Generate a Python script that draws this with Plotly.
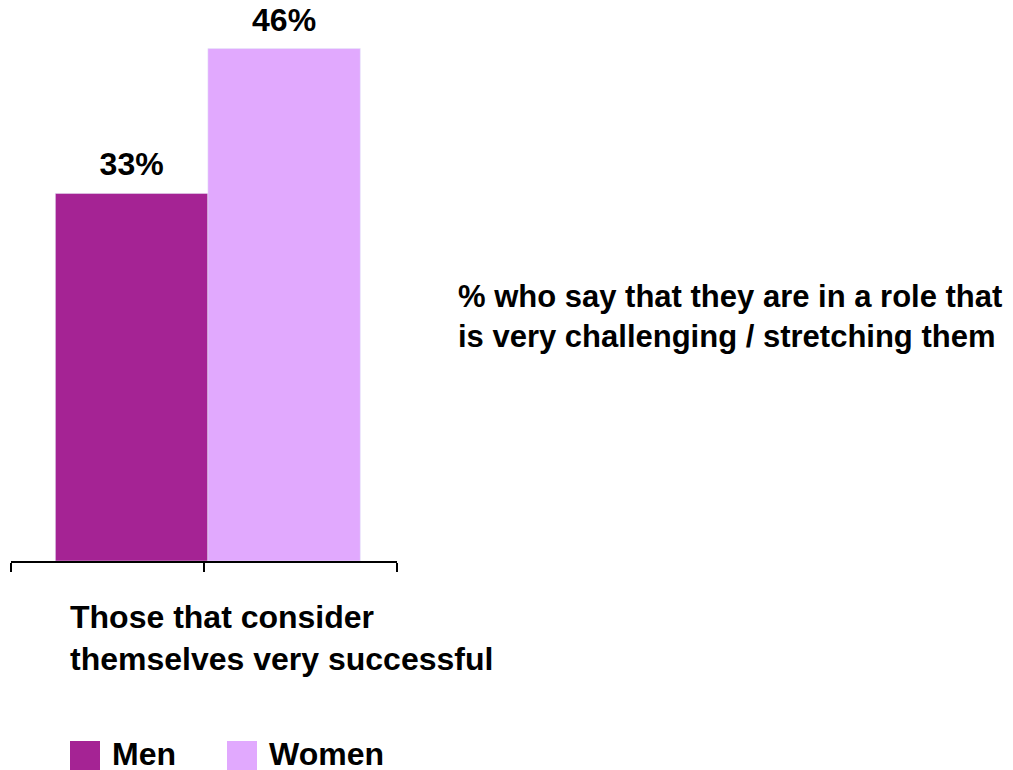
import plotly.graph_objects as go

categories = ["Those that consider<br>themselves very successful"]
series_names = ["Men", "Women"]
men_values = [33]
women_values = [46]
value_labels_men = ["33%"]
value_labels_women = ["46%"]
side_note = "% who say that they are in a role that<br>is very challenging / stretching them"

MEN_COLOR = "#A52394"
WOMEN_COLOR = "#E1A9FE"
FONT = "Liberation Sans, Arial, sans-serif"
FS = 32

GROUP_X = 1
BAR_W = 0.79
OFFSETS = [-0.77, 0.02]

fig = go.Figure()
for name, vals, color, off in [(series_names[0], men_values, MEN_COLOR, OFFSETS[0]),
                               (series_names[1], women_values, WOMEN_COLOR, OFFSETS[1])]:
    fig.add_trace(go.Bar(
        x=[GROUP_X], y=vals, name=name, marker_color=color,
        width=BAR_W, offset=off, showlegend=False,
    ))

# value labels placed above each bar (invisible markers give the label gap)
label_x = [GROUP_X + o + BAR_W / 2 for o in OFFSETS]
fig.add_trace(go.Scatter(
    x=label_x, y=men_values + women_values, mode="markers+text",
    text=["<b>" + t + "</b>" for t in value_labels_men + value_labels_women],
    textposition="top center", marker=dict(size=14.4, opacity=0),
    textfont=dict(size=FS, color="black", family=FONT),
    cliponaxis=False, showlegend=False, hoverinfo="skip",
))

fig.update_layout(
    width=1013, height=770,
    margin=dict(l=11, r=616, t=0, b=209),
    paper_bgcolor="white", plot_bgcolor="white",
    barmode="overlay",
    font=dict(family=FONT, size=FS, color="black"),
    xaxis=dict(range=[0, 2], tickvals=[0, 1, 2], ticktext=["", "", ""],
               ticks="outside", ticklen=9, tickwidth=2, tickcolor="black",
               showline=True, linecolor="black", linewidth=2,
               showgrid=False, zeroline=False),
    yaxis=dict(range=[0, 50.36], visible=False, showgrid=False),
)

# category label
fig.add_annotation(text="<b>" + categories[0] + "</b>", xref="paper", yref="paper",
                   x=(68 - 11) / 386, y=-(597 - 561) / 561, xanchor="left", yanchor="top",
                   align="left", showarrow=False, font=dict(size=FS, family=FONT))

# side note
fig.add_annotation(text="<b>" + side_note + "</b>", xref="paper", yref="paper",
                   x=(456 - 11) / 386, y=(561 - 277) / 561, xanchor="left", yanchor="top",
                   align="left", showarrow=False, font=dict(size=31, family=FONT))

# legend (manual, large swatches)
legend_items = [(series_names[0], MEN_COLOR, 70), (series_names[1], WOMEN_COLOR, 227)]
for name, color, px in legend_items:
    fig.add_shape(type="rect", xref="paper", yref="paper",
                  x0=(px - 11) / 386, x1=(px + 30 - 11) / 386,
                  y0=-(770 - 561) / 561, y1=-(741 - 561) / 561,
                  fillcolor=color, line=dict(width=0))
    fig.add_annotation(text="<b>" + name + "</b>", xref="paper", yref="paper",
                       x=(px + 40 - 11) / 386, y=-(754 - 561) / 561,
                       xanchor="left", yanchor="middle", showarrow=False,
                       font=dict(size=FS, family=FONT))

fig.write_html("out.html")
